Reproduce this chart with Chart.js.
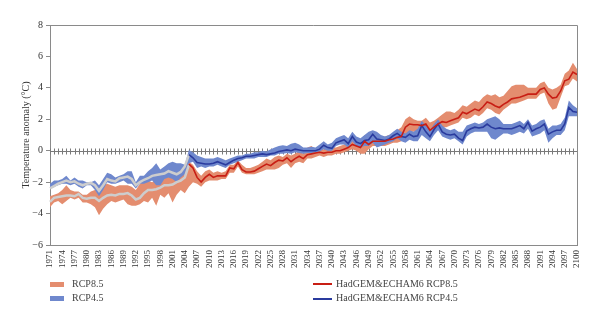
<!DOCTYPE html>
<html>
<head>
<meta charset="utf-8">
<script src="https://cdn.jsdelivr.net/npm/chart.js@4"></script>
<style>
  html, body { margin: 0; padding: 0; background: #fff; }
  #wrap { position: relative; width: 600px; height: 322px; font-family: "Liberation Serif", serif; color: #444; }
  #wrap canvas { position: absolute; left: 0; top: 0; }
  .lg { position: absolute; font-size: 10px; line-height: 12px; white-space: nowrap; }
  .sw { position: absolute; width: 14px; height: 5px; }
  .ln { position: absolute; width: 19px; height: 2px; }
</style>
</head>
<body>
<div id="wrap">
  <canvas id="chart" width="600" height="322"></canvas>
  <div class="sw" style="left:50px;top:282px;background:#E48D6F"></div>
  <div class="lg" style="left:72px;top:278px">RCP8.5</div>
  <div class="sw" style="left:50px;top:296px;background:#6F88CD"></div>
  <div class="lg" style="left:72px;top:292px">RCP4.5</div>
  <div class="ln" style="left:313px;top:283px;background:#C81E14"></div>
  <div class="lg" style="left:336px;top:278px">HadGEM&amp;ECHAM6 RCP8.5</div>
  <div class="ln" style="left:313px;top:298px;background:#2A3B9E"></div>
  <div class="lg" style="left:336px;top:292px">HadGEM&amp;ECHAM6 RCP4.5</div>
</div>
<script>
// years 1971..2100
const years = [];
for (let y = 1971; y <= 2100; y++) years.push(String(y));

const yTicks = [-6, -4, -2, 0, 2, 4, 6, 8];

// RCP8.5 ensemble range, 1971-2100
const rcp85Low = [
  -3.6, -3.3, -3.2, -3.4, -3.2, -3.0, -3.1, -3.0, -3.3, -3.3,
  -3.4, -3.6, -4.1, -3.7, -3.4, -3.2, -3.3, -3.2, -3.1, -3.4,
  -3.5, -3.5, -3.4, -3.2, -3.3, -3.0, -3.5, -2.8, -3.0, -2.7,
  -3.3, -2.8, -2.5, -2.7, -2.3, -2.0, -2.1, -2.3, -2.0, -1.9,
  -1.9, -1.9, -1.8, -1.8, -1.4, -1.4, -1.0, -1.4, -1.5, -1.5,
  -1.5, -1.4, -1.3, -1.2, -1.2, -1.2, -1.1, -0.9, -0.8, -1.1,
  -0.8, -0.7, -0.8, -0.5, -0.5, -0.4, -0.3, -0.4, -0.3, -0.3,
  -0.2, -0.2, -0.1, 0.0, 0.1, 0.0, -0.2, -0.2, 0.1, 0.3,
  0.3, 0.3, 0.3, 0.4, 0.5, 0.5, 0.6, 1.0, 1.2, 1.2,
  1.3, 1.3, 1.2, 0.8, 1.2, 1.4, 1.5, 1.5, 1.6, 1.7,
  1.8, 2.1, 2.0, 2.1, 2.3, 2.2, 2.4, 2.7, 2.6, 2.4,
  2.3, 2.6, 2.8, 3.0, 3.0, 3.1, 3.2, 3.3, 3.3, 3.3,
  3.6, 3.7, 3.0, 2.6, 2.7, 3.4, 4.1, 4.2, 4.6, 4.4
];
const rcp85High = [
  -2.9, -2.8, -2.7, -2.5, -2.2, -2.5, -2.6, -2.6, -2.8, -2.8,
  -2.6, -2.5, -2.4, -2.2, -2.1, -2.2, -2.3, -2.2, -2.2, -2.2,
  -2.3, -2.5, -2.1, -2.0, -1.9, -2.0, -1.8, -1.7, -1.5, -1.6,
  -1.5, -1.5, -1.4, -1.3, -0.7, -0.9, -1.3, -1.6, -1.3, -1.2,
  -1.4, -1.3, -1.4, -1.3, -0.9, -0.9, -0.6, -0.9, -1.1, -1.1,
  -1.0, -0.9, -0.7, -0.5, -0.6, -0.4, -0.3, -0.4, -0.2, -0.3,
  -0.2, 0.0, -0.2, 0.2, 0.3, 0.1, 0.1, 0.1, 0.1, 0.2,
  0.2, 0.3, 0.4, 0.5, 0.7, 0.6, 0.6, 1.0, 0.8, 0.9,
  0.9, 0.9, 0.9, 1.0, 1.1, 1.3, 1.5, 2.0, 2.2, 2.0,
  1.9, 1.9, 2.1, 1.8, 1.9, 2.1, 2.3, 2.5, 2.5, 2.4,
  2.6, 2.9, 2.8, 3.0, 3.2, 3.1, 3.4, 3.6, 3.5, 3.6,
  3.4, 3.5, 3.8, 4.1, 4.2, 4.2, 4.2, 4.0, 4.0, 4.0,
  4.3, 4.4, 4.0, 3.9, 4.0, 4.2, 4.9, 5.1, 5.6, 5.2
];

// RCP4.5 ensemble range, 1971-2100
const rcp45Low = [
  -2.4, -2.3, -2.2, -2.1, -2.1, -2.2, -2.1, -2.3, -2.4, -2.2,
  -2.2, -2.5, -2.9, -2.5, -2.0, -2.1, -2.1, -2.0, -1.9, -2.1,
  -2.1, -2.4, -2.1, -2.1, -2.0, -1.9, -2.2, -2.2, -1.8, -1.7,
  -1.8, -2.0, -1.7, -1.5, -0.8, -0.7, -1.1, -1.0, -1.1, -1.0,
  -1.0, -0.9, -1.0, -1.1, -0.9, -0.8, -0.7, -0.6, -0.5, -0.5,
  -0.5, -0.4, -0.4, -0.4, -0.3, -0.3, -0.2, -0.2, -0.15, -0.2,
  -0.1, -0.15, -0.2, -0.15, -0.15, -0.1, -0.05, 0.1, 0.0, 0.0,
  0.3, 0.4, 0.4, 0.2, 0.6, 0.3, 0.2, 0.3, 0.3, 0.5,
  0.2, 0.3, 0.4, 0.5, 0.6, 0.8, 0.6, 0.5, 0.7, 0.6,
  0.6, 1.0, 0.8, 0.6, 1.0, 1.3, 0.9, 0.8, 0.7, 0.8,
  0.6, 0.4, 0.9, 1.1, 1.2, 1.2, 1.2, 1.2, 0.8, 0.7,
  0.9, 1.1, 1.1, 1.0, 1.1, 1.2, 1.1, 1.4, 0.9, 1.0,
  1.1, 1.3, 0.5, 0.8, 1.0, 1.0, 1.3, 2.2, 2.2, 2.2
];
const rcp45High = [
  -2.1, -1.9, -1.9, -1.8, -1.6, -1.9, -1.7, -1.9, -1.9, -2.0,
  -2.0, -1.9, -2.2, -1.8, -1.4, -1.5, -1.7, -1.6, -1.5, -1.3,
  -1.3, -2.0, -1.6, -1.6, -1.3, -1.1, -0.8, -1.2, -1.0, -0.8,
  -0.7, -0.8, -0.8, -0.9, 0.05, -0.1, -0.3, -0.4, -0.5, -0.5,
  -0.5, -0.4, -0.5, -0.6, -0.5, -0.4, -0.3, -0.3, -0.2, -0.2,
  -0.1, -0.1, 0.0, -0.05, 0.1, 0.2, 0.3, 0.35, 0.3, 0.45,
  0.5, 0.4, 0.2, 0.2, 0.25, 0.2, 0.4, 0.6, 0.4, 0.5,
  0.8, 0.9, 1.0, 0.8, 1.2, 0.9, 0.8, 1.0, 1.2, 1.3,
  1.2, 1.0, 0.9, 1.0, 1.2, 1.4, 1.2, 1.1, 1.3, 1.2,
  1.4, 1.9, 1.6, 1.3, 1.7, 2.0, 1.6, 1.4, 1.3, 1.4,
  1.2, 1.2, 1.6, 1.7, 1.8, 1.7, 1.8, 2.0, 2.1, 2.2,
  2.0, 1.7, 1.7, 1.7, 1.8, 1.9, 1.7, 2.0, 1.6, 1.7,
  1.9, 2.0, 1.4, 1.6, 1.6, 1.7, 2.1, 3.2, 2.9, 2.7
];

// ensemble means, historical period 1971-2005
const rcp85HistMean = [
  -3.25, -3.0, -2.95, -2.9, -2.85, -2.85, -2.9, -2.75, -3.0, -3.05,
  -3.0, -3.0, -3.2, -3.0, -2.85, -2.8, -2.85, -2.75, -2.75, -2.7,
  -2.85, -3.1, -3.0, -2.7, -2.5, -2.5, -2.45, -2.35, -2.2, -2.2,
  -2.15, -2.0, -1.9, -1.7, -0.9
];
const rcp45HistMean = [
  -2.4, -2.25, -2.1, -2.0, -1.9, -2.0, -1.95, -2.1, -2.2, -2.1,
  -2.05, -2.2, -2.55, -2.2, -1.8, -1.9, -1.95, -1.75, -1.7, -1.65,
  -1.8, -2.2, -2.0, -1.85, -1.75, -1.6, -1.55, -1.5, -1.45, -1.3,
  -1.4, -1.5, -1.35, -1.0, -0.25
];

// HadGEM&ECHAM6 model runs, 2005-2100
const hadRcp85 = [
  -0.85, -1.1, -1.7, -2.0, -1.7, -1.5,
  -1.7, -1.6, -1.6, -1.6, -1.1, -1.15, -0.75, -1.2, -1.35, -1.35,
  -1.3, -1.15, -1.0, -0.85, -0.95, -0.75, -0.6, -0.65, -0.45, -0.7,
  -0.5, -0.35, -0.5, -0.25, -0.2, -0.15, -0.1, -0.15, -0.1, -0.1,
  0.0, 0.0, 0.1, 0.2, 0.4, 0.3, 0.2, 0.6, 0.4, 0.6,
  0.6, 0.6, 0.6, 0.7, 0.75, 0.85, 0.9, 1.5, 1.7, 1.65,
  1.65, 1.6, 1.7, 1.3, 1.5, 1.7, 1.85, 1.8, 1.9, 2.0,
  2.1, 2.45, 2.35, 2.5, 2.65, 2.55, 2.8, 3.1, 3.0, 2.85,
  2.75, 2.95, 3.1, 3.3, 3.35, 3.4, 3.5, 3.6, 3.6, 3.6,
  3.9, 4.0, 3.6, 3.35, 3.4, 3.8, 4.45, 4.55, 5.0, 4.85
];
const hadRcp45 = [
  -0.25, -0.45, -0.75, -0.8, -0.85, -0.85,
  -0.8, -0.7, -0.8, -0.9, -0.75, -0.6, -0.5, -0.45, -0.35, -0.35,
  -0.3, -0.25, -0.2, -0.25, -0.2, -0.15, -0.05, 0.0, 0.05, 0.0,
  0.1, 0.05, 0.0, 0.0, 0.0, 0.0, 0.1, 0.35, 0.2, 0.15,
  0.5, 0.6, 0.7, 0.45, 0.9, 0.55, 0.45, 0.65, 0.7, 1.05,
  0.75, 0.7, 0.65, 0.75, 0.95, 1.1, 0.9, 0.85, 1.05, 0.9,
  0.95, 1.6, 1.2, 0.9, 1.35, 1.7, 1.2, 1.05, 1.0, 1.05,
  0.8, 0.65, 1.25, 1.4, 1.5, 1.45, 1.5, 1.7, 1.5, 1.4,
  1.45, 1.4, 1.4, 1.4, 1.5, 1.6, 1.4, 1.8, 1.25, 1.4,
  1.5, 1.7, 1.05, 1.2, 1.3, 1.3, 1.7, 2.75, 2.5, 2.45
];

const SALMON = '#E48D6F';
const BLUE_BAND = '#6F88CD';
const RED = '#C81E14';
const NAVY = '#2A3B9E';
const MEAN_GREY = '#CDCDCD';
const AXIS = '#8a8a8a';

const histPad  = arr => arr.concat(new Array(years.length - arr.length).fill(null));
const modelPad = arr => new Array(years.length - arr.length).fill(null).concat(arr);

const bandEdge = (data, order) => ({
  data, order, fill: false, borderWidth: 0, borderColor: 'transparent', pointRadius: 0
});
const bandTop = (data, color, order) => ({
  data, order, fill: '-1', backgroundColor: color, borderWidth: 0, borderColor: 'transparent', pointRadius: 0
});
const lineSet = (data, color, width, order) => ({
  data, order, fill: false, borderColor: color, borderWidth: width, pointRadius: 0, tension: 0
});

// zero line with yearly tick marks + box frame
const framePlugin = {
  id: 'frame',
  beforeDatasetsDraw(chart) {
    const { ctx, chartArea: a, scales: { x, y } } = chart;
    const y0 = Math.round(y.getPixelForValue(0)) + 0.5;
    ctx.save();
    ctx.strokeStyle = '#7a7a7a';
    ctx.lineWidth = 1;
    ctx.beginPath();
    ctx.moveTo(a.left, y0);
    ctx.lineTo(a.right, y0);
    years.forEach((_, i) => {
      const px = Math.round(x.getPixelForValue(i)) + 0.5;
      ctx.moveTo(px, y0 - 3);
      ctx.lineTo(px, y0 + 3);
    });
    ctx.stroke();
    ctx.restore();
  },
  afterDraw(chart) {
    const { ctx, chartArea: a } = chart;
    ctx.save();
    ctx.strokeStyle = AXIS;
    ctx.lineWidth = 1;
    ctx.beginPath();
    ctx.moveTo(a.left, Math.round(a.top) + 0.5);
    ctx.lineTo(Math.round(a.right) + 0.5, Math.round(a.top) + 0.5);
    ctx.lineTo(Math.round(a.right) + 0.5, a.bottom);
    ctx.stroke();
    ctx.restore();
  }
};

new Chart(document.getElementById('chart'), {
  type: 'line',
  data: {
    labels: years,
    datasets: [
      bandEdge(rcp85Low, 4),
      bandTop(rcp85High, SALMON, 4),
      bandEdge(rcp45Low, 3),
      bandTop(rcp45High, BLUE_BAND, 3),
      lineSet(histPad(rcp85HistMean), MEAN_GREY, 2.5, 2),
      lineSet(histPad(rcp45HistMean), MEAN_GREY, 2.5, 2),
      lineSet(modelPad(hadRcp85), RED, 1.6, 1),
      lineSet(modelPad(hadRcp45), NAVY, 1.6, 1)
    ]
  },
  options: {
    responsive: false,
    animation: false,
    layout: { padding: { left: 0, right: 23, top: 25, bottom: 52 } },
    plugins: { legend: { display: false }, tooltip: { enabled: false } },
    scales: {
      x: {
        offset: false,
        grid: { display: false, drawTicks: false },
        border: { display: true, color: AXIS },
        afterFit: s => { s.height = 25; },
        ticks: {
          autoSkip: false, minRotation: 90, maxRotation: 90, padding: 5,
          color: '#333', font: { family: 'Liberation Serif', size: 9 },
          callback: (v, i) => (i % 3 === 0 ? years[i] : '')
        }
      },
      y: {
        min: -6, max: 8,
        afterFit: s => { s.width = 50; },
        afterBuildTicks: s => { s.ticks = yTicks.map(v => ({ value: v })); },
        grid: { drawOnChartArea: false, tickLength: 4, color: AXIS },
        border: { display: true, color: AXIS },
        ticks: {
          padding: 3, color: '#333', font: { family: 'Liberation Serif', size: 10 },
          callback: v => (v < 0 ? '\u2212' + Math.abs(v) : String(v))
        },
        title: {
          display: true, text: 'Temperature anomaly (°C)', color: '#333',
          font: { family: 'Liberation Serif', size: 10 }, padding: { top: 20, bottom: 0 }
        }
      }
    }
  },
  plugins: [framePlugin]
});
</script>
</body>
</html>
